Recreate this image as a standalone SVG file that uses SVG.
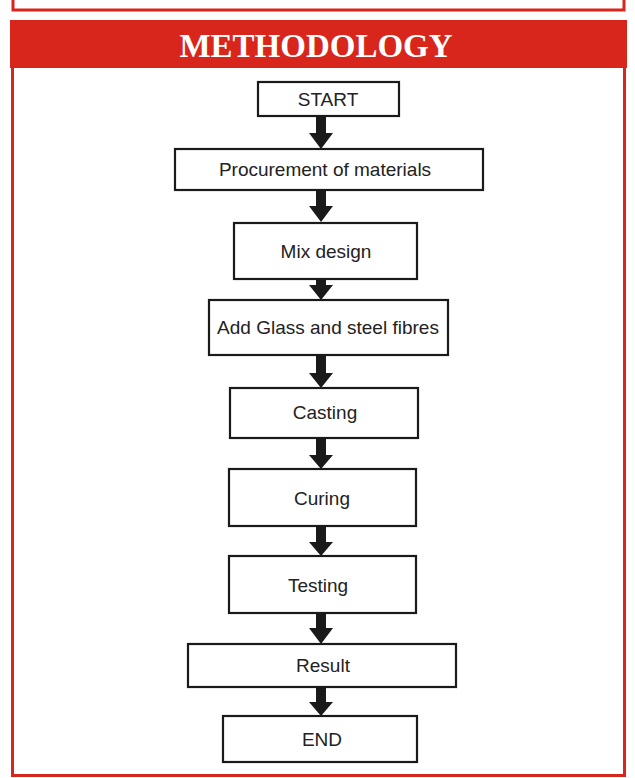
<svg xmlns="http://www.w3.org/2000/svg" width="635" height="778" viewBox="0 0 635 778">
<style>
.box{fill:#fff;stroke:#1a1a1a;stroke-width:2.2}
.lbl{font-family:"Liberation Sans",Arial,sans-serif;font-size:19px;fill:#222;text-anchor:middle}
.arr{fill:#1a1a1a}
.title{font-family:"Liberation Serif","Times New Roman",serif;font-weight:bold;font-size:33px;fill:#fff;text-anchor:middle}
</style>
<rect x="0" y="0" width="635" height="778" fill="#fff"/>
<g id="frame">
<path d="M13,0 V10 H624 V0" fill="none" stroke="#d9261c" stroke-width="3"/>
<rect x="10" y="20" width="617" height="48" fill="#d9261c"/>
<rect x="12.5" y="66" width="612" height="709.5" fill="none" stroke="#d9261c" stroke-width="3"/>
<text class="title" x="316" y="57">METHODOLOGY</text>
</g>
<g id="connectors">
<path class="arr" d="M316,116 V133 H309 L321,149 L333,133 H326 V116 Z"/>
<path class="arr" d="M316,190 V206 H309 L321,222 L333,206 H326 V190 Z"/>
<path class="arr" d="M316,279 V285 H309 L321,300 L333,285 H326 V279 Z"/>
<path class="arr" d="M316,355 V373 H309 L321,388 L333,373 H326 V355 Z"/>
<path class="arr" d="M316,438 V455 H309 L321,469 L333,455 H326 V438 Z"/>
<path class="arr" d="M316,526 V542 H309 L321,556 L333,542 H326 V526 Z"/>
<path class="arr" d="M316,613 V628 H309 L321,644 L333,628 H326 V613 Z"/>
<path class="arr" d="M316,687 V702 H309 L321,716 L333,702 H326 V687 Z"/>
</g>
<g id="start"><rect class="box" x="258" y="82" width="141" height="34"/><text class="lbl" x="328" y="106">START</text></g>
<g id="procurement"><rect class="box" x="175" y="149" width="308" height="41"/><text class="lbl" x="325" y="176">Procurement of materials</text></g>
<g id="mixdesign"><rect class="box" x="234" y="223" width="183" height="56"/><text class="lbl" x="326" y="258">Mix design</text></g>
<g id="addfibres"><rect class="box" x="209" y="300" width="239" height="55"/><text class="lbl" x="328" y="334">Add Glass and steel fibres</text></g>
<g id="casting"><rect class="box" x="230" y="388" width="188" height="50"/><text class="lbl" x="325" y="419">Casting</text></g>
<g id="curing"><rect class="box" x="229" y="469" width="187" height="57"/><text class="lbl" x="322" y="505">Curing</text></g>
<g id="testing"><rect class="box" x="229" y="556" width="187" height="57"/><text class="lbl" x="318" y="592">Testing</text></g>
<g id="result"><rect class="box" x="188" y="644" width="268" height="43"/><text class="lbl" x="323" y="672">Result</text></g>
<g id="end"><rect class="box" x="223" y="716" width="194" height="46"/><text class="lbl" x="322" y="746">END</text></g>
</svg>
